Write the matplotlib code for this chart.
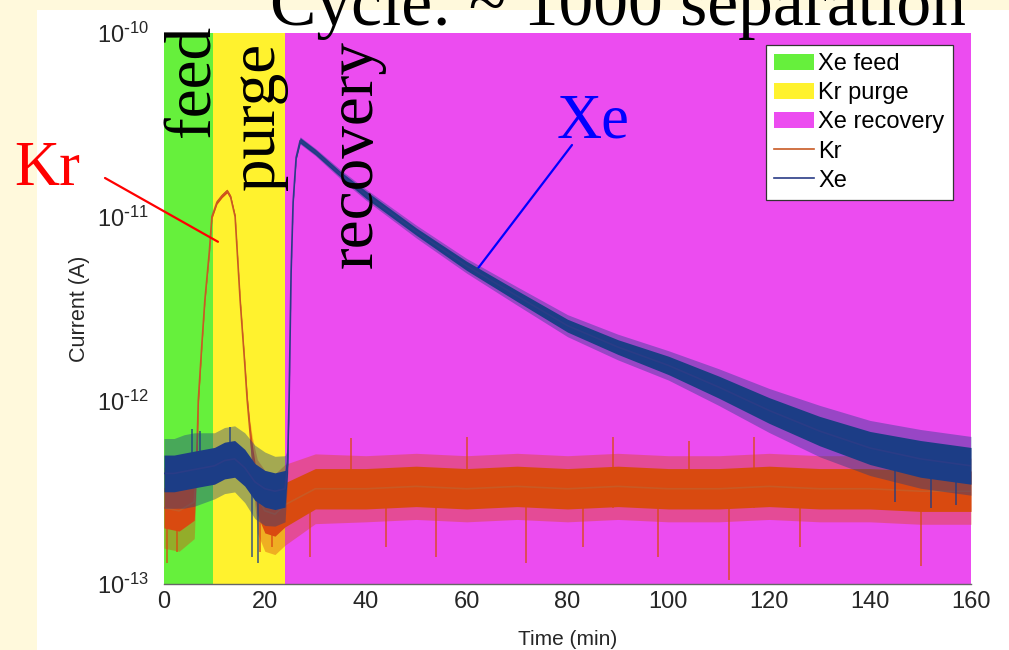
import matplotlib
matplotlib.use("Agg")
import matplotlib.pyplot as plt
import matplotlib.patches as mpatches
from matplotlib.ticker import FuncFormatter
import numpy as np

plt.rcParams["font.family"] = "Liberation Sans"

W, H = 1009, 650

# cycle phases (min)
phase_names = ["Xe feed", "Kr purge", "Xe recovery"]
phase_start = [0.0, 9.7, 24.0]
phase_end = [9.7, 24.0, 160.0]
phase_colors = ["#66F03C", "#FFF22E", "#EC4CF0"]

# Kr signal: centre trace plus half-width of the noise band (decades)
kr_t = [0, 3, 6, 6.5, 6.8, 7.5, 8.1, 9.0, 9.5, 10.5, 11.5, 12.5, 13.2, 14.1, 15.1,
        16.0, 16.5, 17.0, 17.5, 18.5, 20, 22, 24, 30, 40, 50, 60, 70, 80, 90,
        100, 110, 120, 130, 140, 150, 160]
kr_mid = [2.6e-13, 2.5e-13, 2.8e-13, 5.0e-13, 1.0e-12, 2.0e-12, 3.5e-12, 6.5e-12,
          1.0e-11, 1.2e-11, 1.3e-11, 1.38e-11, 1.28e-11, 1.0e-11, 3.5e-12, 1.6e-12,
          1.0e-12, 7.0e-13, 5.0e-13, 3.0e-13, 2.5e-13, 2.4e-13, 2.7e-13, 3.3e-13,
          3.3e-13, 3.4e-13, 3.3e-13, 3.4e-13, 3.3e-13, 3.4e-13, 3.3e-13, 3.3e-13,
          3.4e-13, 3.3e-13, 3.3e-13, 3.2e-13, 3.2e-13]
kr_band = [0.11, 0.11, 0.10, 0.06, 0.02, 0.01, 0.01, 0.01, 0.01, 0.01, 0.01, 0.01,
           0.01, 0.01, 0.01, 0.01, 0.02, 0.03, 0.06, 0.10, 0.12, 0.12, 0.12, 0.11,
           0.11, 0.11, 0.11, 0.11, 0.11, 0.11, 0.11, 0.11, 0.11, 0.11, 0.11, 0.11, 0.11]
kr_fringe = [0.22, 0.22, 0.20, 0.10, 0.03, 0.01, 0.01, 0.01, 0.01, 0.01, 0.01, 0.01,
             0.01, 0.01, 0.01, 0.02, 0.03, 0.05, 0.10, 0.20, 0.22, 0.22, 0.22, 0.19,
             0.18, 0.18, 0.18, 0.18, 0.18, 0.18, 0.18, 0.18, 0.18, 0.18, 0.18, 0.18, 0.18]

# Xe signal
xe_t = [0, 2, 4, 6, 8, 10, 12, 14, 16, 18, 20, 22, 24, 24.5, 24.8, 25.2, 25.6, 26.2,
        27, 30, 35, 40, 50, 60, 70, 80, 90, 100, 110, 120, 130, 140, 150, 160]
xe_mid = [4.0e-13, 4.0e-13, 4.1e-13, 4.2e-13, 4.3e-13, 4.4e-13, 4.7e-13, 4.8e-13,
          4.3e-13, 3.6e-13, 3.3e-13, 3.2e-13, 3.3e-13, 4.5e-13, 1.0e-12, 5.0e-12,
          1.2e-11, 2.1e-11, 2.6e-11, 2.25e-11, 1.7e-11, 1.32e-11, 8.3e-12, 5.4e-12,
          3.7e-12, 2.55e-12, 1.95e-12, 1.55e-12, 1.18e-12, 8.8e-13, 6.8e-13, 5.5e-13,
          4.8e-13, 4.4e-13]
xe_band = [0.10, 0.10, 0.10, 0.10, 0.10, 0.10, 0.10, 0.10, 0.10, 0.10, 0.10, 0.10,
           0.10, 0.05, 0.01, 0.01, 0.01, 0.01, 0.015, 0.015, 0.015, 0.02, 0.02, 0.025,
           0.03, 0.035, 0.04, 0.05, 0.06, 0.07, 0.08, 0.09, 0.10, 0.10]
xe_fringe = [0.19, 0.19, 0.20, 0.20, 0.19, 0.18, 0.18, 0.18, 0.19, 0.20, 0.20, 0.19,
             0.18, 0.08, 0.02, 0.01, 0.01, 0.01, 0.02, 0.02, 0.025, 0.03, 0.035, 0.04,
             0.05, 0.06, 0.07, 0.08, 0.10, 0.12, 0.14, 0.15, 0.16, 0.16]

# isolated noise spikes (time, low end, high end)
kr_spike_t = [0.6, 2.5, 19.0, 21.5, 29, 37, 44, 54, 60, 71.7, 83, 89, 98, 104, 112, 117, 126, 150]
kr_spike_lo = [1.3e-13, 1.5e-13, 1.5e-13, 1.6e-13, 1.4e-13, 2.6e-13, 1.6e-13, 1.4e-13, 2.6e-13,
               1.3e-13, 1.6e-13, 2.6e-13, 1.4e-13, 2.6e-13, 1.05e-13, 2.6e-13, 1.6e-13, 1.25e-13]
kr_spike_hi = [2.6e-13, 2.6e-13, 2.6e-13, 2.6e-13, 3.3e-13, 6.2e-13, 3.3e-13, 3.3e-13, 6.3e-13,
               3.3e-13, 3.3e-13, 6.3e-13, 3.3e-13, 6.0e-13, 3.3e-13, 6.3e-13, 3.3e-13, 3.3e-13]
xe_spike_t = [5.5, 7.2, 13.0, 17.5, 18.6, 145, 152, 157]
xe_spike_lo = [4.0e-13, 4.0e-13, 4.5e-13, 1.4e-13, 1.3e-13, 2.8e-13, 2.6e-13, 2.7e-13]
xe_spike_hi = [7.0e-13, 6.8e-13, 7.2e-13, 3.6e-13, 3.6e-13, 5.5e-13, 4.8e-13, 4.4e-13]

KR_COLOR = "#D94A10"
KR_LINE = "#C85A24"
XE_COLOR = "#1C3D86"
XE_LINE = "#2A3C86"


def px(x, y):
    return x / W, 1 - y / H


fig = plt.figure(figsize=(W / 100, H / 100), dpi=100)
fig.patch.set_facecolor("#FFF9DC")
fig.patches.append(mpatches.Rectangle((37 / W, 0), 1, 1 - 9.5 / H,
                                      transform=fig.transFigure, facecolor="white",
                                      edgecolor="none", zorder=-1))

ax = fig.add_axes([164 / W, 1 - 584 / H, 807 / W, 551 / H])
ax.set_yscale("log")
ax.set_xlim(0, 160)
ax.set_ylim(1e-13, 1e-10)

spans = []
for name, a, b, c in zip(phase_names, phase_start, phase_end, phase_colors):
    spans.append(ax.axvspan(a, b, color=c, lw=0, label=name, zorder=0))


def draw_signal(t, mid, band, fringe, st, slo, shi, color, lcolor, label, z):
    t = np.array(t)
    mid = np.array(mid)
    band = np.array(band)
    fringe = np.array(fringe)
    ax.fill_between(t, mid / 10 ** fringe, mid * 10 ** fringe, color=color,
                    alpha=0.4, lw=0, zorder=z)
    ax.fill_between(t, mid / 10 ** band, mid * 10 ** band, color=color,
                    lw=0, zorder=z + 0.1)
    ax.vlines(st, slo, shi, color=color, lw=1.2, alpha=0.8, zorder=z + 0.1)
    line, = ax.plot(t, mid, color=lcolor, lw=1.2, label=label, zorder=z + 0.2)
    return line


kr_line = draw_signal(kr_t, kr_mid, kr_band, kr_fringe, kr_spike_t, kr_spike_lo,
                      kr_spike_hi, KR_COLOR, KR_LINE, "Kr", 2)
xe_line = draw_signal(xe_t, xe_mid, xe_band, xe_fringe, xe_spike_t, xe_spike_lo,
                      xe_spike_hi, XE_COLOR, XE_LINE, "Xe", 3)


def decade_label(v, pos):
    e = int(round(np.log10(v)))
    return r"$\mathdefault{10^{\text{-}%d}}$" % abs(e)


ax.minorticks_off()
ax.set_yticks([1e-13, 1e-12, 1e-11, 1e-10])
ax.yaxis.set_major_formatter(FuncFormatter(decade_label))
ax.set_xticks(np.arange(0, 161, 20))
ax.tick_params(axis="y", length=0, pad=11, labelsize=17, colors="#262626")
ax.tick_params(axis="x", length=0, pad=5, labelsize=17, colors="#262626")
for s in ["top", "right", "left"]:
    ax.spines[s].set_visible(False)
ax.spines["bottom"].set_color("#666666")
ax.spines["bottom"].set_linewidth(1.0)
ax.spines["bottom"].set_zorder(5)

ax.set_ylabel("Current (A)", fontsize=15.5, color="#262626")
ax.yaxis.set_label_coords((90 - 164) / 807, 0.5)
ax.set_xlabel("Time (min)", fontsize=15, color="#262626")
ax.xaxis.set_label_coords(0.5, (584 - 630) / 551)

leg = ax.legend(handles=spans + [kr_line, xe_line], loc="upper right",
                bbox_to_anchor=((953 - 164) / 807, (584 - 45) / 551),
                borderaxespad=0, fontsize=17, fancybox=False, framealpha=1,
                edgecolor="#333333", handlelength=1.7, handletextpad=0.17,
                labelspacing=0.3, borderpad=0.35)
leg.get_frame().set_linewidth(0.9)
leg.set_zorder(10)

serif = "Liberation Serif"

# slide title (runs off the top edge)
fig.text(*px(270, 25), "Cycle: ~ 1000 separation", fontsize=50, family=serif,
         ha="left", va="baseline", color="black")

# phase captions
for word, bx, by in [("feed", 210, 137), ("purge", 274, 190), ("recovery", 372, 268)]:
    fig.text(*px(bx, by), word, fontsize=47, family=serif, rotation=90,
             rotation_mode="anchor", ha="left", va="baseline", color="black")

# gas call-outs
fig.text(*px(14, 185), "Kr", fontsize=45, family=serif, color="#FF0000",
         ha="left", va="baseline")
ax.annotate("", xy=(10.7, 7.3e-12), xytext=(105, H - 178), textcoords="figure pixels",
            arrowprops=dict(arrowstyle="-", color="#FF0000", lw=1.6,
                            shrinkA=0, shrinkB=0), annotation_clip=False)
fig.text(*px(557, 138), "Xe", fontsize=45, family=serif, color="#0000FF",
         ha="left", va="baseline")
ax.annotate("", xy=(61.7, 5.0e-12), xytext=(572, H - 145), textcoords="figure pixels",
            arrowprops=dict(arrowstyle="-", color="#0000FF", lw=1.6,
                            shrinkA=0, shrinkB=0), annotation_clip=False)

fig.savefig("out.png", dpi=100, facecolor=fig.get_facecolor())
